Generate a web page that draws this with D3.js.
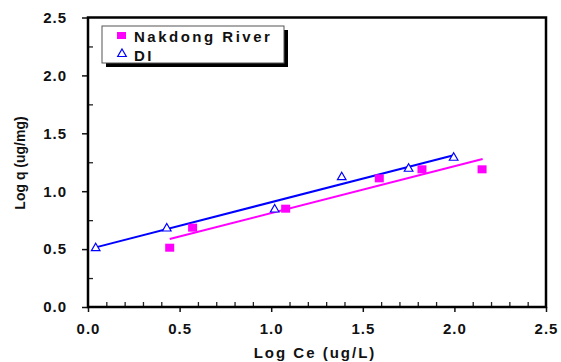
<!DOCTYPE html>
<html>
<head>
<meta charset="utf-8">
<script src="https://cdn.jsdelivr.net/npm/d3@7"></script>
<style>
  body { margin: 0; background: #fff; }
  text { font-family: "Liberation Sans", Arial, sans-serif; font-weight: bold; fill: #111; }
</style>
</head>
<body>
<div id="chart"></div>
<script>
// data
var nakdongX = [0.446, 0.571, 1.079, 1.59, 1.823, 2.151];
var nakdongY = [0.512, 0.685, 0.849, 1.111, 1.189, 1.189];
var diX = [0.042, 0.43, 1.019, 1.385, 1.75, 1.996];
var diY = [0.512, 0.682, 0.846, 1.125, 1.198, 1.293];

// fitted lines (end points)
var nakdongFitX = [0.446, 2.154];
var nakdongFitY = [0.587, 1.278];
var diFitX = [0.042, 1.996];
var diFitY = [0.515, 1.31];

var tickValues = [0, 0.5, 1.0, 1.5, 2.0, 2.5];
var legendLabels = ["Nakdong River", "DI"];

var svgWidth = 561, svgHeight = 362;
var margin = { top: 17.5, right: 15, bottom: 55, left: 88 };
var width = svgWidth - margin.left - margin.right;
var height = svgHeight - margin.top - margin.bottom;

var svg = d3.select("#chart").append("svg")
    .attr("width", svgWidth)
    .attr("height", svgHeight);

var g = svg.append("g")
    .attr("transform", `translate(${margin.left}, ${margin.top})`);

var x = d3.scaleLinear().domain([0, 2.5]).range([0, width]);
var y = d3.scaleLinear().domain([0, 2.5]).range([height, 0]);

// minor ticks (inside)
var xMinor = d3.range(0.1, 2.5, 0.1).filter(v => Math.abs(v * 2 - Math.round(v * 2)) > 0.01);
g.append("g")
    .attr("transform", `translate(0, ${height})`)
    .call(d3.axisTop(x).tickValues(xMinor).tickSize(5).tickFormat(""))
    .call(a => a.select(".domain").remove())
    .selectAll("line").attr("stroke", "#222").attr("stroke-width", 1.3);

var yMinor = [0.25, 0.75, 1.25, 1.75, 2.25];
g.append("g")
    .call(d3.axisRight(y).tickValues(yMinor).tickSize(5).tickFormat(""))
    .call(a => a.select(".domain").remove())
    .selectAll("line").attr("stroke", "#222").attr("stroke-width", 1.3);

// major axes
var xAxis = g.append("g")
    .attr("transform", `translate(0, ${height})`)
    .call(d3.axisBottom(x).tickValues(tickValues).tickSize(5).tickPadding(11).tickFormat(d3.format(".1f")));
var yAxis = g.append("g")
    .call(d3.axisLeft(y).tickValues(tickValues).tickSize(6).tickPadding(15).tickFormat(d3.format(".1f")));

[xAxis, yAxis].forEach(a => {
    a.select(".domain").remove();
    a.selectAll("line").attr("stroke", "#111").attr("stroke-width", 1.5);
    a.selectAll("text")
        .style("font-size", "15px")
        .style("letter-spacing", "1px")
        .attr("fill", "#111");
});

// frame
g.append("rect")
    .attr("x", 0).attr("y", 0)
    .attr("width", width).attr("height", height)
    .attr("fill", "none")
    .attr("stroke", "#000")
    .attr("stroke-width", 2.5);

// axis titles
svg.append("text")
    .attr("x", 315)
    .attr("y", 358)
    .attr("text-anchor", "middle")
    .style("font-size", "15px")
    .style("letter-spacing", "2px")
    .text("Log Ce (ug/L)");

svg.append("text")
    .attr("transform", `translate(25, 163) rotate(-90)`)
    .attr("text-anchor", "middle")
    .style("font-size", "14px")
    .text("Log q (ug/mg)");

// fit lines
var line = d3.line().x(d => x(d[0])).y(d => y(d[1]));
g.append("path")
    .datum(d3.zip(nakdongFitX, nakdongFitY))
    .attr("d", line)
    .attr("fill", "none")
    .attr("stroke", "#ff00ff")
    .attr("stroke-width", 2);
g.append("path")
    .datum(d3.zip(diFitX, diFitY))
    .attr("d", line)
    .attr("fill", "none")
    .attr("stroke", "#0000ff")
    .attr("stroke-width", 2);

// points
var triangle = d3.symbol().type(d3.symbolTriangle).size(32);
g.selectAll(".di")
    .data(d3.zip(diX, diY))
    .enter()
    .append("path")
    .attr("class", "di")
    .attr("d", triangle)
    .attr("transform", d => `translate(${x(d[0])}, ${y(d[1]) + 0.5})`)
    .attr("fill", "#fff")
    .attr("stroke", "#0000ff")
    .attr("stroke-width", 1.2);

g.selectAll(".nak")
    .data(d3.zip(nakdongX, nakdongY))
    .enter()
    .append("rect")
    .attr("class", "nak")
    .attr("x", d => x(d[0]) - 4.5)
    .attr("y", d => y(d[1]) - 4)
    .attr("width", 9)
    .attr("height", 8)
    .attr("fill", "#ff00ff");

// legend
var legend = svg.append("g").attr("transform", "translate(102, 26)");
legend.append("rect")
    .attr("x", 4).attr("y", 4)
    .attr("width", 182).attr("height", 37)
    .attr("fill", "#000");
legend.append("rect")
    .attr("x", 0).attr("y", 0)
    .attr("width", 182).attr("height", 37)
    .attr("fill", "#fff")
    .attr("stroke", "#555")
    .attr("stroke-width", 1);
legend.append("rect")
    .attr("x", 15).attr("y", 6)
    .attr("width", 9).attr("height", 7)
    .attr("fill", "#ff00ff");
legend.append("path")
    .attr("d", triangle)
    .attr("transform", "translate(20, 28)")
    .attr("fill", "#fff")
    .attr("stroke", "#0000ff")
    .attr("stroke-width", 1.2);
legend.selectAll(".lt")
    .data(legendLabels)
    .enter()
    .append("text")
    .attr("x", 32)
    .attr("y", (d, i) => 15.5 + i * 19)
    .style("font-size", "15px")
    .style("letter-spacing", "2.5px")
    .text(d => d);
</script>
</body>
</html>
